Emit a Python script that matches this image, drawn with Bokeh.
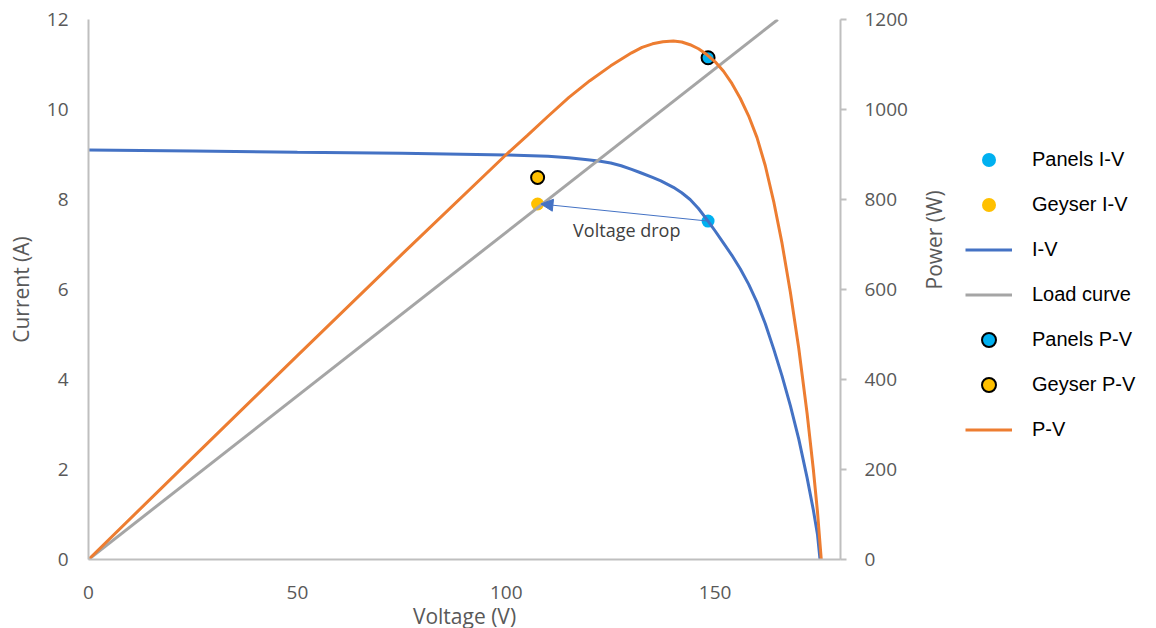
import math
from bokeh.plotting import figure
from bokeh.layouts import row
from bokeh.models import (Range1d, LinearAxis, Legend, LegendItem, Arrow, NormalHead,
                          Label, FixedTicker, Spacer)
from bokeh.embed import file_html
from bokeh.resources import INLINE

# ---- data ----
iv_voltage = [0, 25, 50, 75, 100, 110, 115, 120, 122.5, 125, 127.5, 130, 132, 135, 137, 140, 142, 144,
              146, 148.3, 150, 152, 154, 156, 158, 160, 162, 164, 166, 168, 170, 172, 173.5, 174.5, 175.1]
iv_current = [9.10, 9.08, 9.05, 9.03, 8.99, 8.96, 8.93, 8.88, 8.85, 8.81, 8.75, 8.67, 8.60, 8.49, 8.415,
              8.27, 8.15, 8.00, 7.80, 7.52, 7.30, 7.03, 6.76, 6.46, 6.12, 5.72, 5.24, 4.68, 4.08, 3.42,
              2.68, 1.82, 1.10, 0.55, 0.0]

pv_voltage = [0, 25, 50, 75, 100, 105, 110, 115, 120, 125, 130, 132.5, 135, 137.5, 140, 142, 144, 146,
              148, 150, 152, 154, 156, 158, 160, 162, 164, 166, 168, 170, 172, 173.5, 174.5, 175.4]
pv_power = [0, 227, 453, 678, 900, 942, 985, 1027, 1064, 1097, 1126, 1138, 1146, 1150.5, 1152, 1150,
            1144, 1135, 1122, 1106, 1085, 1058, 1025, 986, 938, 875, 796, 703, 594, 470, 325, 200,
            105, 0]

load_voltage = [0, 165]
load_current = [0, 12]

panels_iv_v = [148.3]
panels_iv_i = [7.52]
geyser_iv_v = [107.5]
geyser_iv_i = [7.90]
panels_pv_v = [148.3]
panels_pv_p = [1115]
geyser_pv_v = [107.5]
geyser_pv_p = [849]

series_names = ["Panels I-V", "Geyser I-V", "I-V", "Load curve", "Panels P-V", "Geyser P-V", "P-V"]

x_ticks = [0, 50, 100, 150]
y_ticks = [0, 2, 4, 6, 8, 10, 12]
p_ticks = [0, 200, 400, 600, 800, 1000, 1200]

C_IV = "#4472C4"
C_PV = "#ED7D31"
C_LOAD = "#A5A5A5"
C_PAN = "#00B0F0"
C_GEY = "#FFC000"
AX = "#BFBFBF"
TXT = "#595959"
FONT = "Open Sans"

TOP, FH, BOT = 19, 540, 66

p = figure(frame_width=752, frame_height=FH, output_backend="svg", toolbar_location=None,
           x_range=Range1d(0, 180), y_range=Range1d(0, 12),
           min_border_left=77, min_border_top=TOP, min_border_bottom=BOT, min_border_right=125)
p.extra_y_ranges = {"power": Range1d(0, 1200)}
p.grid.visible = False
p.outline_line_color = None
p.background_fill_color = "white"
p.border_fill_color = "white"

# bottom axis
xa = p.xaxis[0]
xa.ticker = FixedTicker(ticks=x_ticks)
xa.axis_label = "Voltage (V)"
# left axis
ya = p.yaxis[0]
ya.ticker = FixedTicker(ticks=y_ticks)
ya.axis_label = "Current (A)"
for ax in (xa, ya):
    ax.major_tick_out = 0
    ax.major_tick_in = 0
    ax.minor_tick_out = 0
    ax.minor_tick_in = 0
    ax.axis_line_color = AX
    ax.axis_line_width = 2
    ax.major_label_text_font = FONT
    ax.major_label_text_font_size = "19px"
    ax.major_label_text_color = TXT
    ax.axis_label_text_font = FONT
    ax.axis_label_text_font_size = "21px"
    ax.axis_label_text_font_style = "normal"
    ax.axis_label_text_color = TXT
xa.major_label_standoff = 26
xa.axis_label_standoff = 0
ya.major_label_standoff = 20
ya.axis_label_standoff = 9

# right axis
ra = LinearAxis(y_range_name="power", ticker=FixedTicker(ticks=p_ticks), axis_label="Power (W)")
ra.major_tick_out = 6
ra.major_tick_in = 0
ra.minor_tick_out = 0
ra.minor_tick_in = 0
ra.major_tick_line_color = AX
ra.major_tick_line_width = 2
ra.axis_line_color = AX
ra.axis_line_width = 2
ra.major_label_text_font = FONT
ra.major_label_text_font_size = "19px"
ra.major_label_text_color = TXT
ra.major_label_standoff = 18
ra.axis_label_text_font = FONT
ra.axis_label_text_font_size = "21px"
ra.axis_label_text_font_style = "normal"
ra.axis_label_text_color = TXT
ra.axis_label_standoff = 23
ra.axis_label_orientation = math.pi / 2
p.add_layout(ra, "right")

# series (Excel drawing order)
p.scatter(panels_iv_v, panels_iv_i, size=13, fill_color=C_PAN, line_color=None)
p.scatter(geyser_iv_v, geyser_iv_i, size=13, fill_color=C_GEY, line_color=None)
p.line(iv_voltage, iv_current, line_color=C_IV, line_width=3)
p.line(load_voltage, load_current, line_color=C_LOAD, line_width=3)
p.scatter(panels_pv_v, panels_pv_p, size=13, fill_color=C_PAN, line_color="black",
          line_width=2, y_range_name="power")
p.scatter(geyser_pv_v, geyser_pv_p, size=13, fill_color=C_GEY, line_color="black",
          line_width=2, y_range_name="power")
p.line(pv_voltage, pv_power, line_color=C_PV, line_width=3, y_range_name="power")

# annotation arrow from panels operating point to geyser operating point
p.add_layout(Arrow(x_start=panels_iv_v[0], y_start=panels_iv_i[0],
                   x_end=geyser_iv_v[0] + 0.8, y_end=geyser_iv_i[0],
                   line_color=C_IV, line_width=1,
                   end=NormalHead(size=12, fill_color=C_IV, line_color=C_IV, line_width=1)))
p.add_layout(Label(x=116, y=7.33, text="Voltage drop", text_baseline="middle",
                   text_font=FONT, text_font_size="18px", text_color="#404040"))

# ---- legend panel (separate figure to the right) ----
lp = figure(frame_width=183, frame_height=FH, output_backend="svg", toolbar_location=None,
            x_range=Range1d(1000, 1001), y_range=Range1d(1000, 1001),
            x_axis_type=None, y_axis_type=None,
            min_border_left=0, min_border_right=0, min_border_top=TOP, min_border_bottom=BOT)
lp.grid.visible = False
lp.outline_line_color = None
lp.border_fill_color = "white"
lp.background_fill_color = "white"
# legend proxies (same data, outside this panel's visible range)
l_pan = lp.scatter(panels_iv_v, panels_iv_i, size=13, fill_color=C_PAN, line_color=None)
l_gey = lp.scatter(geyser_iv_v, geyser_iv_i, size=13, fill_color=C_GEY, line_color=None)
l_iv = lp.line(iv_voltage, iv_current, line_color=C_IV, line_width=3)
l_load = lp.line(load_voltage, load_current, line_color=C_LOAD, line_width=3)
l_ppv = lp.scatter(panels_pv_v, panels_pv_p, size=13, fill_color=C_PAN, line_color="black", line_width=2)
l_gpv = lp.scatter(geyser_pv_v, geyser_pv_p, size=13, fill_color=C_GEY, line_color="black", line_width=2)
l_pv = lp.line(pv_voltage, pv_power, line_color=C_PV, line_width=3)

legend = Legend(items=[LegendItem(label=n, renderers=[r]) for n, r in zip(
    series_names, [l_pan, l_gey, l_iv, l_load, l_ppv, l_gpv, l_pv])], location=(0, 112))
legend.label_text_font = "Liberation Sans"
legend.label_text_font_size = "20px"
legend.label_text_color = "black"
legend.glyph_width = 47
legend.glyph_height = 35
legend.label_height = 20
legend.spacing = 10
legend.padding = 0
legend.margin = 0
legend.label_standoff = 20
legend.border_line_color = None
legend.background_fill_alpha = 0
lp.add_layout(legend, "center")

layout = row(Spacer(width=3, height=10), p, lp)
open("out.html", "w").write(file_html(layout, INLINE))
